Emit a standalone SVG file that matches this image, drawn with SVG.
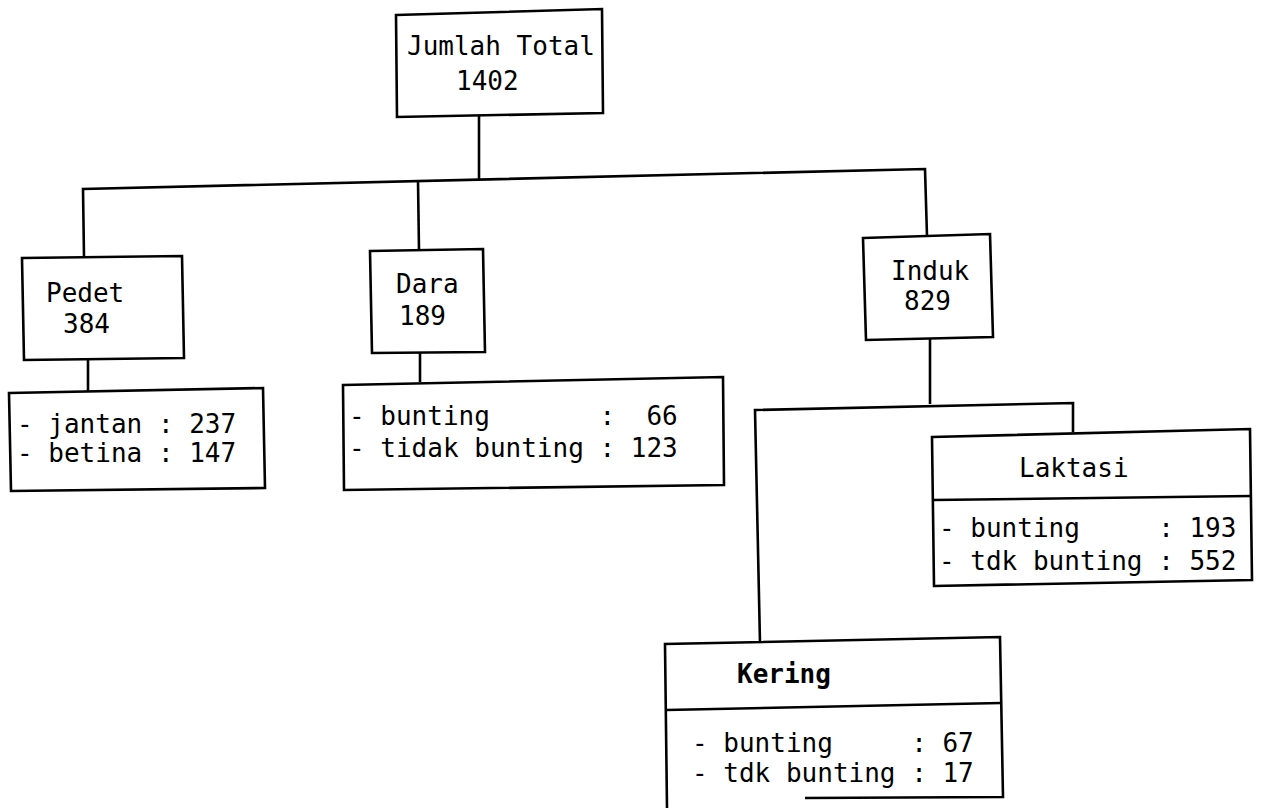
<svg xmlns="http://www.w3.org/2000/svg" width="1261" height="808" viewBox="0 0 1261 808">
<style>
.b{fill:#fff;stroke:#000;stroke-width:2.6;stroke-linejoin:miter}
.l{fill:none;stroke:#000;stroke-width:2.6}
text{font-family:"DejaVu Sans Mono","Liberation Mono",monospace;font-size:26px;fill:#000;white-space:pre}
.bold{font-weight:bold}
</style>
<rect width="1261" height="808" fill="#fff"/>
<g id="connectors">
<polyline class="l" points="479,115 479,180"/>
<polyline class="l" points="84,257 83,189 925,169 927,236"/>
<polyline class="l" points="418,181 419,250"/>
<polyline class="l" points="88,359 88,391"/>
<polyline class="l" points="420,352 420,382"/>
<polyline class="l" points="930,338 930,404"/>
<polyline class="l" points="760,643 755,410 1073,403 1073,432"/>
</g>
<g id="total">
<polygon class="b" points="396,15 602,9 603,113 397,117"/>
<text x="407" y="55">Jumlah Total</text>
<text x="456" y="90">1402</text>
</g>
<g id="pedet">
<polygon class="b" points="22,258 182,256 184,358 24,360"/>
<text x="46" y="302">Pedet</text>
<text x="63" y="333">384</text>
</g>
<g id="pedet-detail">
<polygon class="b" points="9,393 263,388 265,488 11,491"/>
<text x="17" y="433">- jantan : 237</text>
<text x="17" y="462">- betina : 147</text>
</g>
<g id="dara">
<polygon class="b" points="370,251 483,249 485,352 372,353"/>
<text x="396" y="293">Dara</text>
<text x="399" y="325">189</text>
</g>
<g id="dara-detail">
<polygon class="b" points="343,385 723,377 724,485 344,490"/>
<text x="349" y="425">- bunting       :  66</text>
<text x="349" y="457">- tidak bunting : 123</text>
</g>
<g id="induk">
<polygon class="b" points="863,238 990,234 993,337 866,340"/>
<text x="891" y="280">Induk</text>
<text x="904" y="310">829</text>
</g>
<g id="laktasi">
<polygon class="b" points="932,437 1250,429 1252,580 934,586"/>
<line class="l" x1="933" y1="500" x2="1251" y2="496"/>
<text x="1019" y="477">Laktasi</text>
<text x="939" y="537">- bunting     : 193</text>
<text x="939" y="570">- tdk bunting : 552</text>
</g>
<g id="kering">
<polyline class="b" points="667,808 665,644 1000,637 1003,797 805,798" fill="#fff"/>
<line class="l" x1="666" y1="710" x2="1001" y2="703"/>
<text class="bold" x="737" y="683">Kering</text>
<text x="692" y="752">- bunting     : 67</text>
<text x="692" y="782">- tdk bunting : 17</text>
</g>
</svg>
